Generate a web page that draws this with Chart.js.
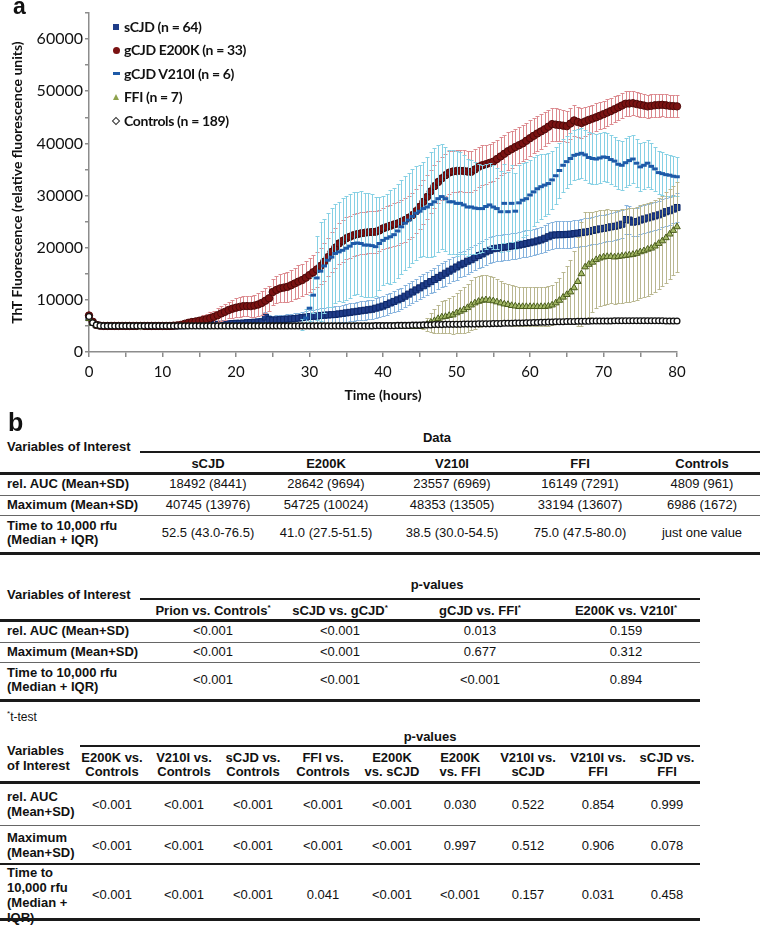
<!DOCTYPE html>
<html><head><meta charset="utf-8">
<script src="https://cdn.jsdelivr.net/npm/chart.js@4.4.1/dist/chart.umd.min.js"></script>
<style>
html,body{margin:0;padding:0;background:#fff;}
body{width:761px;height:928px;position:relative;overflow:hidden;font-family:"Liberation Sans",Arial,sans-serif;color:#111;}
#chartBox{position:absolute;left:0;top:0;width:761px;height:405px;}
.t{position:absolute;white-space:pre;font-size:13px;line-height:14px;}
.t sup{font-size:8px;line-height:0;vertical-align:5px;}
.hl{position:absolute;background:#1a1a1a;}
.lg{position:absolute;font-family:Lato,sans-serif;font-weight:bold;font-size:14px;line-height:18px;letter-spacing:-0.35px;white-space:pre;color:#111;}
.mk{position:absolute;}
</style>
</head><body>
<div id="chartBox"><canvas id="c" width="761" height="405"></canvas></div>
<script>
// ---------------- DATA (panel a) ----------------
const hours = Array.from({length:161}, (_, i) => i * 0.5); // sampling every 0.5 h, 0..80 h
const seriesNames = ['sCJD (n = 64)', 'gCJD E200K (n = 33)', 'gCJD V210I (n = 6)', 'FFI (n = 7)', 'Controls (n = 189)'];

const sCJD = [
 6600,5700,5200,5050,5000,5000,5000,5000,5000,5000,
 5000,5000,5000,5000,5000,5000,5000,5000,5000,5000,
 5000,5000,5000,5000,5050,5050,5050,5100,5100,5100,
 5150,5150,5200,5200,5250,5300,5300,5350,5400,5450,
 5500,5500,5550,5600,5650,5700,5750,5800,6700,6200,
 6100,6150,6200,6250,6300,6350,6400,6500,6600,6700,
 6800,6850,6900,7000,7050,7100,7150,7200,7300,7400,
 7500,7600,7700,7800,7900,8000,8100,8200,8400,8600,
 8800,9100,9400,9700,10000,10300,10700,11100,11500,11900,
 12300,12700,13100,13500,13900,14300,14700,15100,15500,15900,
 16300,16700,17000,17400,17700,18100,18500,18800,19200,19500,
 19800,19900,20000,20100,20200,20300,20400,20500,20650,20800,
 20950,21100,21300,21500,21800,22100,22400,22450,22500,22500,
 22550,22600,22700,22800,22900,23000,23100,23300,23450,23600,
 23700,23850,24000,24100,24300,24500,25400,25300,24900,25000,
 25300,25500,25700,25900,26100,26300,26600,26900,27100,27400,
 27700];
const sCJD_SD = [
 200,200,150,150,150,150,150,150,150,150,
 150,150,150,150,150,150,150,150,150,150,
 150,150,200,200,200,250,250,250,300,300,
 300,350,350,400,400,450,450,500,500,550,
 600,600,650,650,700,700,750,750,900,800,
 800,850,850,900,900,950,1000,1050,1100,1150,
 1200,1250,1300,1350,1400,1450,1500,1550,1600,1650,
 1700,1700,1750,1750,1800,1800,1850,1850,1900,1900,
 1950,1950,2000,2000,2050,2050,2100,2100,2150,2150,
 2200,2200,2250,2250,2300,2300,2300,2350,2350,2350,
 2400,2400,2400,2400,2450,2450,2450,2450,2500,2500,
 2500,2500,2500,2500,2500,2500,2500,2500,2500,2500,
 2500,2500,2550,2550,2550,2550,2600,2600,2600,2600,
 2600,2600,2600,2600,2600,2600,2600,2650,2650,2650,
 2650,2650,2650,2650,2650,2650,2700,2700,2700,2700,
 2700,2700,2700,2700,2700,2700,2700,2700,2700,2700,
 2700];

const E200K = [
 7000,5800,5200,5050,5000,5000,5000,5000,5000,5000,
 5000,5000,5000,5000,5000,5000,5000,5000,5000,5000,
 5000,5000,5000,5050,5100,5200,5400,5600,5750,5850,
 6000,6150,6300,6500,6750,7050,7400,7700,8050,8300,
 8500,8650,8800,8800,8800,8900,9100,9400,9830,10300,
 11500,11900,12200,12350,12500,12800,13150,13500,13800,14250,
 14750,15300,15850,16500,17300,18200,19200,20000,20800,21300,
 21800,22100,22400,22600,22750,22850,22950,23000,23050,23300,
 23700,23950,24200,24450,24650,25000,25300,25750,26250,27000,
 27850,28800,29750,30800,31800,32600,33300,33900,34400,34600,
 34700,34750,34700,34600,34550,35000,35500,35800,36000,36250,
 36500,37000,37500,38000,38500,38900,39300,39650,40000,40500,
 41000,41450,41900,42300,42700,43200,43700,43600,43500,43400,
 43300,43800,44400,44100,43900,44200,44500,44750,45000,45300,
 45600,45900,46200,46550,46900,47250,47600,47650,47700,47550,
 47400,47250,47100,47200,47300,47350,47400,47300,47200,47150,
 47100];
const E200K_SD = [
 200,200,150,150,150,150,150,150,150,150,
 150,150,150,150,150,150,150,150,150,150,
 150,150,150,200,250,300,400,500,600,700,
 800,900,1000,1100,1200,1300,1400,1500,1600,1700,
 1800,1850,1900,1950,2000,2100,2200,2300,2400,2450,
 2500,2600,2700,2800,2900,3000,3000,3100,3100,3200,
 3200,3300,3400,3500,3600,3700,3800,3850,3900,3950,
 4000,4000,4000,4000,4000,4000,4000,4000,4000,4000,
 4000,4050,4050,4100,4100,4100,4150,4150,4200,4200,
 4200,4200,4200,4150,4150,4100,4100,4050,4050,4000,
 4000,3950,3950,3900,3900,3850,3850,3800,3750,3700,
 3700,3650,3650,3600,3600,3550,3500,3500,3450,3400,
 3400,3350,3300,3300,3250,3200,3150,3100,3050,3000,
 3000,2950,2900,2850,2800,2750,2700,2700,2650,2600,
 2600,2550,2500,2500,2450,2400,2400,2350,2350,2300,
 2300,2250,2250,2200,2200,2200,2150,2150,2100,2100,
 2100];

const V210I = [
 6800,5700,5200,5050,5000,5000,5000,5000,5000,5000,
 5000,5000,5000,5000,5000,5000,5000,5000,5000,5000,
 5000,5000,5000,5000,5000,5000,5000,5000,5000,5000,
 5000,5000,5000,5000,5000,5000,5000,5000,5000,5000,
 5000,5000,5000,5000,5000,5000,5000,5000,5000,5000,
 5000,5000,5000,5000,5000,5000,5000,5100,5300,6500,
 8400,10900,14200,15500,16500,17600,18200,18900,19200,19500,
 19900,20300,20800,20900,20800,20500,20500,20400,20200,20800,
 21400,21800,22100,22500,23200,24000,24700,25300,26000,26600,
 27000,27500,27800,28300,28800,29400,29800,29400,28800,28800,
 28500,28500,28200,27800,27800,27600,27500,27500,27900,28200,
 27800,27500,26900,28500,26900,28500,27000,28600,29100,29400,
 30100,30700,31300,31700,32000,32300,33000,33800,34800,35800,
 36500,37100,37700,37900,38100,37800,37300,37100,37000,37200,
 37400,37300,36900,36600,36000,35800,36300,36700,37000,36200,
 35500,35800,36200,35600,35100,34400,34200,34000,33900,33700,
 33600];
const V210I_SD = [
 200,200,150,150,150,150,150,150,150,150,
 150,150,150,150,150,150,150,150,150,150,
 150,150,150,150,150,150,150,150,150,150,
 150,150,150,150,150,150,150,150,150,150,
 150,150,150,150,150,150,150,150,150,150,
 150,150,150,150,150,200,300,500,1000,1800,
 2500,3500,8000,9500,9000,9000,9500,9500,9500,10000,
 10000,10000,9800,9800,10000,10000,10000,9800,9500,9000,
 8500,8500,9000,9000,9000,9000,9000,9000,9000,9000,
 8800,9000,9500,10000,10300,10300,10000,10000,10000,10000,
 10000,9800,9500,9300,9000,8800,8600,8400,8200,8000,
 8000,7800,7800,7600,7600,7400,7300,7200,7100,7000,
 6800,6600,6400,6200,6000,5800,5600,5500,5300,5100,
 5000,4900,4800,4800,4800,4800,4800,4800,4800,4800,
 4700,4700,4700,4700,4700,4700,4700,4700,4600,4600,
 4600,4500,4500,4400,4300,4200,4100,4000,3900,3800,
 3700];

const FFI = [
 6400,5500,5100,4950,4900,4900,4900,4900,4900,4900,
 4900,4900,4900,4900,5000,4900,4900,4900,4900,4900,
 4900,4900,4900,4900,4900,4900,4900,4900,4900,4900,
 4900,4900,4900,4900,4900,4900,4900,4900,4900,4900,
 4900,4900,4900,4900,4900,4900,4900,4900,4900,4900,
 4900,4900,4900,4900,4900,4900,4900,4900,4900,4900,
 4900,4900,4900,4900,4900,4900,4900,4900,4900,4900,
 4900,4900,4900,4900,4900,4900,4900,4900,4900,4900,
 4900,4900,4900,4900,4900,4900,4900,4900,4900,4900,
 4900,5000,5300,5700,6000,6400,6700,6800,7000,7100,
 7500,7800,8100,8500,9000,9400,9700,9900,10000,9900,
 9800,9600,9400,9200,9100,8900,8800,8700,8700,8700,
 8700,8700,8700,8700,8700,8800,9000,9400,9900,10500,
 11000,11500,12300,13500,15000,16300,16800,17200,17700,18000,
 18200,18300,18300,18200,18300,18400,18500,18600,18700,18900,
 19200,19400,19700,19900,20300,20800,21300,21900,22600,23300,
 24000];
const FFI_SD = [
 200,200,150,150,150,150,150,150,150,150,
 150,150,150,150,600,150,150,150,150,150,
 150,150,150,150,150,150,150,150,150,150,
 150,150,150,150,150,150,150,150,150,150,
 150,150,150,150,150,150,150,150,150,150,
 150,150,150,150,150,150,150,150,150,150,
 150,150,150,150,150,150,150,150,150,150,
 150,150,150,150,150,150,150,150,150,150,
 150,150,150,150,150,150,150,150,150,150,
 150,500,1200,1800,2300,2700,3000,3200,3400,3600,
 3800,4100,4400,4600,4800,4900,4900,4900,4800,4700,
 4500,4400,4200,4100,4000,3900,3900,3800,3800,3800,
 3700,3700,3700,3700,3700,3800,3800,4000,4300,4800,
 5500,6200,7000,8500,10000,10500,10000,9600,9300,9200,
 9100,9100,9000,9000,9000,9000,9000,9000,9000,8900,
 8900,8900,8900,8800,8800,8700,8700,8700,8600,8600,
 8600];

const Controls = [
 6800,5600,5200,5050,5000,5000,5000,5000,5000,5000,
 5000,5000,5000,5000,5000,5000,5000,5000,5000,5000,
 5000,5000,5000,5000,5000,5000,5000,5000,5000,5000,
 5000,5000,5000,5000,5000,5000,5000,5000,5000,5000,
 5000,5000,5000,5000,5000,5000,5000,5000,5000,5000,
 5000,5000,5000,5000,5000,5000,5000,5000,5000,5000,
 5000,5000,5000,5000,5000,5000,5000,5000,5000,5000,
 5000,5000,5000,5000,5000,5000,5000,5000,5050,5050,
 5050,5050,5050,5050,5100,5100,5100,5100,5150,5150,
 5150,5200,5200,5200,5250,5250,5250,5300,5300,5300,
 5300,5300,5350,5350,5350,5350,5400,5400,5400,5400,
 5450,5450,5450,5500,5500,5500,5550,5550,5550,5600,
 5600,5650,5650,5700,5700,5750,5750,5800,5800,5800,
 5850,5850,5850,5900,5900,5900,5900,5950,5950,5950,
 5950,5950,5950,6000,6000,6000,6000,6000,6000,6000,
 6000,6000,6000,6000,6000,6000,6000,5950,5950,5950,
 5950];

const yTickLabels = [0, 10000, 20000, 30000, 40000, 50000, 60000];
const xTickLabels = [0, 10, 20, 30, 40, 50, 60, 70, 80];

// ---------------- DATA (panel b) ----------------
const t1Cols = ['sCJD','E200K','V210I','FFI','Controls'];
const t1AUC  = ['18492 (8441)','28642 (9694)','23557 (6969)','16149 (7291)','4809 (961)'];
const t1Max  = ['40745 (13976)','54725 (10024)','48353 (13505)','33194 (13607)','6986 (1672)'];
const t1Time = ['52.5 (43.0-76.5)','41.0 (27.5-51.5)','38.5 (30.0-54.5)','75.0 (47.5-80.0)','just one value'];

const t2Cols = ['Prion vs. Controls*','sCJD vs. gCJD*','gCJD vs. FFI*','E200K vs. V210I*'];
const t2AUC  = ['<0.001','<0.001','0.013','0.159'];
const t2Max  = ['<0.001','<0.001','0.677','0.312'];
const t2Time = ['<0.001','<0.001','<0.001','0.894'];

const t3Cols = ['E200K vs.\nControls','V210I vs.\nControls','sCJD vs.\nControls','FFI vs.\nControls','E200K\nvs. sCJD','E200K\nvs. FFI','V210I vs.\nsCJD','V210I vs.\nFFI','sCJD vs.\nFFI'];
const t3AUC  = ['<0.001','<0.001','<0.001','<0.001','<0.001','0.030','0.522','0.854','0.999'];
const t3Max  = ['<0.001','<0.001','<0.001','<0.001','<0.001','0.997','0.512','0.906','0.078'];
const t3Time = ['<0.001','<0.001','<0.001','0.041','<0.001','<0.001','0.157','0.031','0.458'];

// ---------------- CHART ----------------
const styles = [
  {pointStyle:'rect',    radius:4.3, bg:'#1f3c88', border:'#0d2768', bw:1,   err:'#86b3dd', order:4},
  {pointStyle:'circle',  radius:3.7, bg:'#7a1212', border:'#4d0808', bw:1,   err:'#dc8a8f', order:3},
  {pointStyle:'line',    radius:2.8, bg:'#1e5aa8', border:'#1e5aa8', bw:3,   err:'#86d0e4', order:2},
  {pointStyle:'triangle',radius:3.8, bg:'#a3b866', border:'#4a5d1c', bw:1,   err:'#b9b790', order:1},
  {pointStyle:'circle',  radius:2.9, bg:'#ffffff', border:'#111111', bw:1.3, err:null,      order:0}
];
const values = [sCJD, E200K, V210I, FFI, Controls];
const sds = [sCJD_SD, E200K_SD, V210I_SD, FFI_SD, null];

const datasets = values.map((arr, k) => ({
  label: seriesNames[k],
  data: arr.map((v, i) => ({x: hours[i], y: v})),
  sd: sds[k],
  errColor: styles[k].err,
  showLine: false,
  pointStyle: styles[k].pointStyle,
  pointRadius: styles[k].radius,
  pointBackgroundColor: styles[k].bg,
  pointBorderColor: styles[k].border,
  pointBorderWidth: styles[k].bw,
  order: styles[k].order,
  clip: false
}));

const errorBars = {
  id: 'errorBars',
  beforeDatasetDraw(chart, args) {
    const ds = chart.data.datasets[args.index];
    if (!ds.sd) return;
    const xs = chart.scales.x, ys = chart.scales.y, ctx = chart.ctx;
    ctx.save();
    ctx.strokeStyle = ds.errColor;
    ctx.lineWidth = 1;
    ds.data.forEach((p, i) => {
      const s = ds.sd[i];
      const px = Math.round(xs.getPixelForValue(p.x)) + 0.5;
      const top = Math.round(ys.getPixelForValue(p.y + s)) + 0.5;
      const bot = Math.round(ys.getPixelForValue(p.y - s)) + 0.5;
      ctx.beginPath();
      ctx.moveTo(px, top); ctx.lineTo(px, bot);
      ctx.moveTo(px - 2, top); ctx.lineTo(px + 2, top);
      ctx.moveTo(px - 2, bot); ctx.lineTo(px + 2, bot);
      ctx.stroke();
    });
    ctx.restore();
  }
};

const axisColor = '#8c8c8c';
new Chart(document.getElementById('c'), {
  type: 'line',
  data: {datasets},
  options: {
    responsive: false,
    animation: false,
    events: [],
    layout: {padding: {left: 0, right: 84, top: 13, bottom: 0}},
    plugins: {legend: {display: false}, tooltip: {enabled: false}},
    scales: {
      x: {
        type: 'linear', min: 0, max: 80,
        ticks: {stepSize: 5, autoSkip: false, maxRotation: 0, padding: 6,
          font: {family: 'Lato', size: 15}, color: '#111',
          callback: v => xTickLabels.includes(v) ? String(v) : ''},
        grid: {drawOnChartArea: false, drawTicks: true, tickLength: 5, color: axisColor, lineWidth: 1.5},
        border: {display: true, color: axisColor, width: 1.5},
        title: {display: true, text: 'Time (hours)', color: '#111',
          font: {family: 'Lato', size: 14, weight: 'bold'}, padding: {top: 0, bottom: 1}},
        afterFit(s) { s.height = 53; }
      },
      y: {
        min: 0, max: 65000,
        ticks: {stepSize: 5000, padding: 2, font: {family: 'Lato', size: 16}, color: '#111',
          callback: v => yTickLabels.includes(v) ? String(v) : ''},
        grid: {drawOnChartArea: false, drawTicks: true, tickLength: 4, color: axisColor, lineWidth: 1.5},
        border: {display: true, color: axisColor, width: 1.5},
        title: {display: true, text: 'ThT Fluorescence (relative fluorescence units)', color: '#111',
          font: {family: 'Lato', size: 14, weight: 'bold'}, padding: {top: 9, bottom: 0}},
        afterFit(s) { s.width = 89; }
      }
    }
  },
  plugins: [errorBars]
});

// ---------------- HTML overlays ----------------
function el(cls, css, text) {
  const d = document.createElement('div');
  d.className = cls;
  Object.assign(d.style, css);
  if (text !== undefined) {
    if (text.includes('*')) {
      const parts = text.split('*');
      d.appendChild(document.createTextNode(parts[0]));
      const sp = document.createElement('sup'); sp.textContent = '*';
      d.appendChild(sp);
      if (parts[1]) d.appendChild(document.createTextNode(parts[1]));
    } else d.textContent = text;
  }
  document.body.appendChild(d);
  return d;
}
function txt(s, cx, cy, o = {}) {
  const lh = o.lh || 14, n = s.split('\n').length;
  const css = {top: (cy - n * lh / 2) + 'px', lineHeight: lh + 'px', fontSize: (o.size || 13) + 'px',
    fontWeight: o.bold ? 'bold' : 'normal'};
  if (o.left) { css.left = cx + 'px'; }
  else { css.left = (cx - 100) + 'px'; css.width = '200px'; css.textAlign = 'center'; }
  return el('t', css, s);
}
function hline(x1, x2, y, w, c) {
  el('hl', {left: x1 + 'px', top: (y - w / 2) + 'px', width: (x2 - x1) + 'px', height: w + 'px', background: c || '#1a1a1a'});
}

// panel letters
el('t', {left: '13px', top: '-7px', fontSize: '23px', lineHeight: '26px', fontWeight: 'bold'}, 'a');
el('t', {left: '8px', top: '408px', fontSize: '25px', lineHeight: '28px', fontWeight: 'bold'}, 'b');

// legend
const legendY = [26.5, 50, 73.5, 97, 120.5];
const mkCss = [
  {width: '6px', height: '6px', background: '#1f3c88'},
  {width: '7px', height: '7px', borderRadius: '50%', background: '#7a1212'},
  {width: '7px', height: '3px', background: '#1e5aa8'},
  {width: '0', height: '0', borderLeft: '3.5px solid transparent', borderRight: '3.5px solid transparent', borderBottom: '6px solid #8ea24d'},
  {width: '4px', height: '4px', border: '1px solid #333', background: '#fff', transform: 'rotate(45deg)'}
];
const mkSize = [[6,6],[7,7],[7,3],[7,6],[6,6]];
seriesNames.forEach((n, k) => {
  const [w, h] = mkSize[k];
  el('mk', Object.assign({left: (116 - w / 2) + 'px', top: (legendY[k] - h / 2) + 'px'}, mkCss[k]));
  el('lg', {left: '124px', top: (legendY[k] - 9) + 'px'}, n);
});

// ---- Table 1 ----
const t1X = [208, 326, 452, 580, 702];
txt('Data', 437, 438, {bold: true});
txt('Variables of Interest', 7, 447, {bold: true, left: true});
hline(140, 760, 452, 2);
t1Cols.forEach((c, i) => txt(c, t1X[i], 464, {bold: true}));
hline(0, 760, 473, 3);
txt('rel. AUC (Mean+SD)', 7, 484, {bold: true, left: true});
t1AUC.forEach((v, i) => txt(v, t1X[i], 484));
hline(0, 760, 495, 1, '#666');
txt('Maximum (Mean+SD)', 7, 505, {bold: true, left: true});
t1Max.forEach((v, i) => txt(v, t1X[i], 505));
hline(0, 760, 515, 1, '#666');
txt('Time to 10,000 rfu\n(Median + IQR)', 7, 533, {bold: true, left: true});
t1Time.forEach((v, i) => txt(v, t1X[i], 533));
hline(0, 760, 553, 3);

// ---- Table 2 ----
const t2X = [213, 340, 480, 626];
txt('p-values', 437, 585, {bold: true});
txt('Variables of Interest', 7, 595, {bold: true, left: true});
hline(140, 700, 599, 2);
t2Cols.forEach((c, i) => txt(c, t2X[i], 611, {bold: true}));
hline(0, 700, 620, 3);
txt('rel. AUC (Mean+SD)', 7, 631, {bold: true, left: true});
t2AUC.forEach((v, i) => txt(v, t2X[i], 631));
hline(0, 700, 642, 1, '#666');
txt('Maximum (Mean+SD)', 7, 652, {bold: true, left: true});
t2Max.forEach((v, i) => txt(v, t2X[i], 652));
hline(0, 700, 662, 1, '#666');
txt('Time to 10,000 rfu\n(Median + IQR)', 7, 680, {bold: true, left: true});
t2Time.forEach((v, i) => txt(v, t2X[i], 680));
hline(0, 700, 700, 3);
txt('*t-test', 7, 717, {left: true, size: 12});

// ---- Table 3 ----
const t3X = [112, 184, 253, 323, 392, 460, 528, 598, 667];
txt('p-values', 430, 737, {bold: true});
hline(80, 700, 746, 2);
txt('Variables\nof Interest', 7, 758, {bold: true, left: true, lh: 15});
t3Cols.forEach((c, i) => txt(c, t3X[i], 765, {bold: true}));
hline(0, 700, 782, 3);
txt('rel. AUC\n(Mean+SD)', 7, 804, {bold: true, left: true, lh: 15});
t3AUC.forEach((v, i) => txt(v, t3X[i], 805));
hline(0, 700, 825, 1, '#666');
txt('Maximum\n(Mean+SD)', 7, 845, {bold: true, left: true, lh: 15});
t3Max.forEach((v, i) => txt(v, t3X[i], 846));
hline(0, 700, 864, 2);
txt('Time to\n10,000 rfu\n(Median +\nIQR)', 7, 895, {bold: true, left: true, lh: 15});
t3Time.forEach((v, i) => txt(v, t3X[i], 895));
hline(0, 700, 919, 3);
</script>
</body></html>
